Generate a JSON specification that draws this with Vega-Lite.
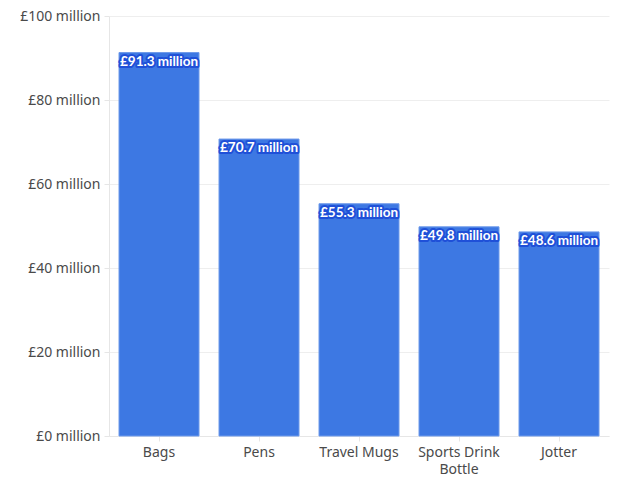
{
  "$schema": "https://vega.github.io/schema/vega-lite/v6.json",
  "width": 500,
  "height": 420,
  "autosize": {"type": "none"},
  "padding": {"left": 109, "top": 16, "right": 15, "bottom": 51},
  "background": "white",
  "config": {
    "font": "Noto Sans",
    "view": {"stroke": null},
    "axis": {
      "labelFont": "Noto Sans",
      "labelFontSize": 14,
      "labelColor": "#4a4a4a",
      "domainColor": "#e6e6e6",
      "tickColor": "#e6e6e6",
      "gridColor": "#eeeeee",
      "title": null
    }
  },
  "data": {
    "values": [
      {"product": "Bags", "value": 91.3},
      {"product": "Pens", "value": 70.7},
      {"product": "Travel Mugs", "value": 55.3},
      {"product": "Sports Drink Bottle", "value": 49.8},
      {"product": "Jotter", "value": 48.6}
    ]
  },
  "encoding": {
    "x": {
      "field": "product",
      "type": "nominal",
      "sort": null,
      "scale": {"paddingInner": 0.2, "paddingOuter": 0.1},
      "axis": {
        "labelAngle": 0,
        "grid": false,
        "labelPadding": 4,
        "labelLineHeight": 17,
        "labelExpr": "datum.label == 'Sports Drink Bottle' ? ['Sports Drink', 'Bottle'] : datum.label"
      }
    },
    "y": {
      "field": "value",
      "type": "quantitative",
      "scale": {"domain": [0, 100]},
      "axis": {
        "values": [0, 20, 40, 60, 80, 100],
        "labelExpr": "'£' + datum.value + ' million'",
        "grid": true,
        "domain": true,
        "labelPadding": 4
      }
    }
  },
  "layer": [
    {
      "mark": {"type": "bar", "color": "#3d78e3", "stroke": "#6f9aea", "strokeWidth": 1}
    },
    {
      "mark": {"type": "text", "baseline": "middle", "dy": 9, "font": "Lato", "fontSize": 13.5, "fontWeight": "bold", "fill": "#1f50d8", "stroke": "#1f50d8", "strokeWidth": 4, "strokeJoin": "round",
        "text": {"expr": "'£' + format(datum.value, '.1f') + ' million'"}}
    },
    {
      "mark": {"type": "text", "baseline": "middle", "dy": 9, "font": "Lato", "fontSize": 13.5, "fontWeight": "bold", "color": "white",
        "text": {"expr": "'£' + format(datum.value, '.1f') + ' million'"}}
    }
  ]
}
